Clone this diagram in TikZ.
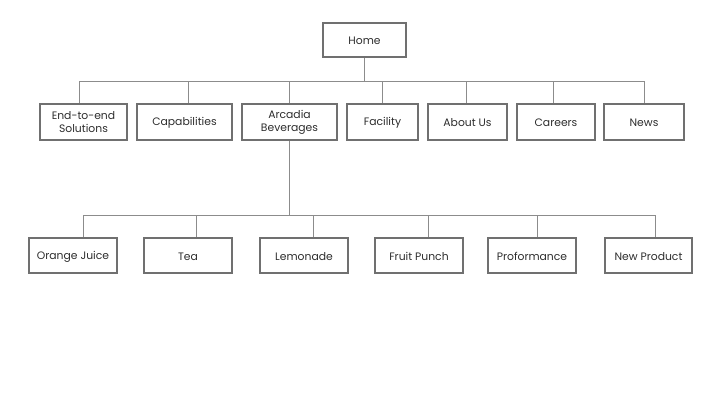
\documentclass[tikz,border=0pt]{standalone}
\usepackage{fontspec}
\setmainfont{Poppins}
\definecolor{boxgray}{RGB}{112,112,112}
\definecolor{linegray}{RGB}{140,140,140}
\definecolor{textgray}{RGB}{45,45,45}
\newcommand{\boxstrut}{\rule[-0.5pt]{0pt}{10.5pt}}
\tikzset{
  box/.style={draw=boxgray, line width=1.6pt, text=textgray, align=center,
    font=\fontsize{10.8}{13}\selectfont, inner sep=1pt,
    execute at begin node=\boxstrut, execute at end node=\boxstrut},
  link/.style={draw=linegray, line width=0.8pt},
}
\begin{document}
\begin{tikzpicture}[x=1pt,y=-1pt]
  \useasboundingbox (0,0) rectangle (720,400);
  \node[box, minimum width=83.4pt, minimum height=34.4pt] (home) at (364.5,40) {Home};
  \coordinate (topbus) at (0,81);
  \coordinate (lowbus) at (0,215);

  % first level
  \foreach \name/\x/\w/\dx/\txt in {ete/83.5/89/-4.5/{End-to-end\\Solutions},
      cap/184.5/97/3.5/Capabilities, arc/289.5/97/-0.5/{Arcadia\\Beverages},
      fac/382.5/73/-0.5/Facility, abt/467.5/81/-1.5/About Us,
      car/556/80/-3/Careers, news/644/82/0/News}
  {
    \node[box, minimum width=\w pt-1.6pt, minimum height=36.4pt] (\name) at (\x,122) {\txt};
    \draw[link] (home.south) -- (home.south |- topbus) -| ([xshift=\dx pt]\name.north);
  }

  % products
  \foreach \name/\x/\w/\dx/\txt in {oj/73/90/10/Orange Juice, tea/188/90/8/Tea,
      lem/304/90/9/Lemonade, fp/419/90/9/Fruit Punch, pro/532/90/5/Proformance,
      np/648.5/89/6.5/New Product}
  {
    \node[box, minimum width=\w pt-1.6pt, minimum height=35.4pt] (\name) at (\x,255.5) {\txt};
    \draw[link] (arc.south) -- (arc.south |- lowbus) -| ([xshift=\dx pt]\name.north);
  }
\end{tikzpicture}
\end{document}
